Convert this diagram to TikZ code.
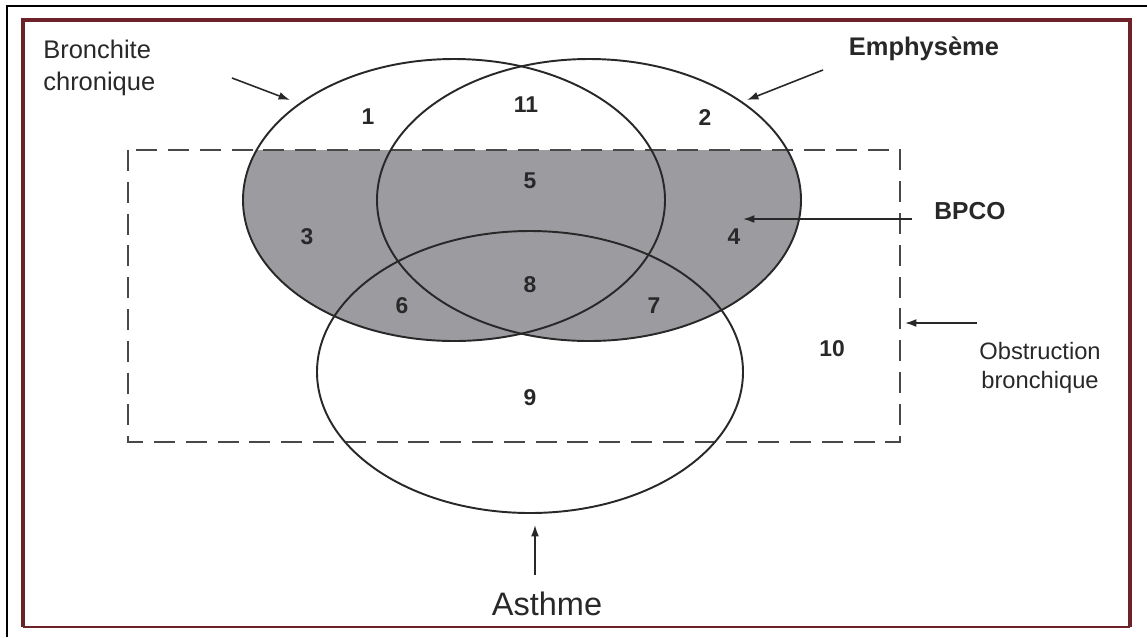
\documentclass[tikz,border=0pt]{standalone}
\usepackage{fontspec}
\setmainfont{Liberation Sans}
\usetikzlibrary{arrows.meta}
\definecolor{framered}{RGB}{108,34,40}
\definecolor{bpcogray}{RGB}{156,156,160}
\definecolor{ink}{RGB}{40,40,40}

\begin{document}
\begin{tikzpicture}[x=0.02cm, y=-0.02cm,
    every node/.style={inner sep=0pt, text=ink},
    zone/.style={font=\fontsize{13}{13}\selectfont\bfseries},
    venn/.style={draw=ink, line width=1.1pt},
    pointer/.style={draw=ink, line width=0.9pt, -{Latex[length=6.5pt, width=4.5pt]}}]
  \useasboundingbox (0, 0) rectangle (1147, 637);
  \draw[line width=1.2pt] (7, 637) -- (7, 6) -- (1147, 6);
  \draw[framered, line width=2.8pt] (23, 627) -- (23, 20) -- (1130, 20) -- (1130, 627);
  \draw[framered, line width=1.2pt] (23, 627) -- (1130, 627);
  \begin{scope}
    \clip (128, 150) rectangle (1147, 637);
    \fill[bpcogray] (454, 200) ellipse (211 and 141);
    \fill[bpcogray] (589, 200) ellipse (212 and 141);
  \end{scope}
  \draw[ink!85, line width=1.1pt, dash pattern=on 11.9pt off 6.2pt] (128, 150) rectangle (900, 442);
  \draw[venn] (454, 200) ellipse (211 and 141);
  \draw[venn] (589, 200) ellipse (212 and 141);
  \draw[venn] (530, 372) ellipse (213 and 141);
  \node[zone] (z1) at (368, 117) {1};
  \node[zone] (z11) at (526, 105) {11};
  \node[zone] (z2) at (705, 118) {2};
  \node[zone] (z5) at (530, 181) {5};
  \node[zone] (z3) at (307, 237) {3};
  \node[zone] (z4) at (734, 237) {4};
  \node[zone] (z8) at (530, 285) {8};
  \node[zone] (z6) at (402, 306) {6};
  \node[zone] (z7) at (654, 306) {7};
  \node[zone] (z9) at (530, 398) {9};
  \node[zone] (z10) at (832, 349) {10};
  \node[font=\fontsize{14.5}{18}\selectfont, align=left, anchor=west] (bronchite) at (43, 68) {Bronchite\\chronique};
  \node[font=\fontsize{14.5}{14.5}\selectfont\bfseries] (emphyseme) at (924, 49) {Emphysème};
  \node[font=\fontsize{14}{14}\selectfont\bfseries] (bpco) at (970, 211) {BPCO};
  \node[font=\fontsize{13.5}{16.4}\selectfont, align=center] (obstruction) at (1040, 368) {Obstruction\\bronchique};
  \node[font=\fontsize{18.5}{18.5}\selectfont] (asthme) at (547, 604) {Asthme};
  \coordinate (bronchitetail) at (232, 78);
  \coordinate (bronchitetip) at (290, 100);
  \coordinate (emphysemetail) at (823, 70);
  \coordinate (emphysemetip) at (747, 100);
  \coordinate (bpcotail) at (912, 219);
  \coordinate (bpcotip) at (743, 219);
  \coordinate (obstructiontail) at (977, 323);
  \coordinate (obstructiontip) at (905, 323);
  \coordinate (asthmetail) at (535, 575);
  \coordinate (asthmetip) at (535, 525);
  \draw[pointer] (bronchitetail) -- (bronchitetip);
  \draw[pointer] (emphysemetail) -- (emphysemetip);
  \draw[pointer] (bpcotail) -- (bpcotip);
  \draw[pointer] (obstructiontail) -- (obstructiontip);
  \draw[pointer] (asthmetail) -- (asthmetip);
\end{tikzpicture}
\end{document}
